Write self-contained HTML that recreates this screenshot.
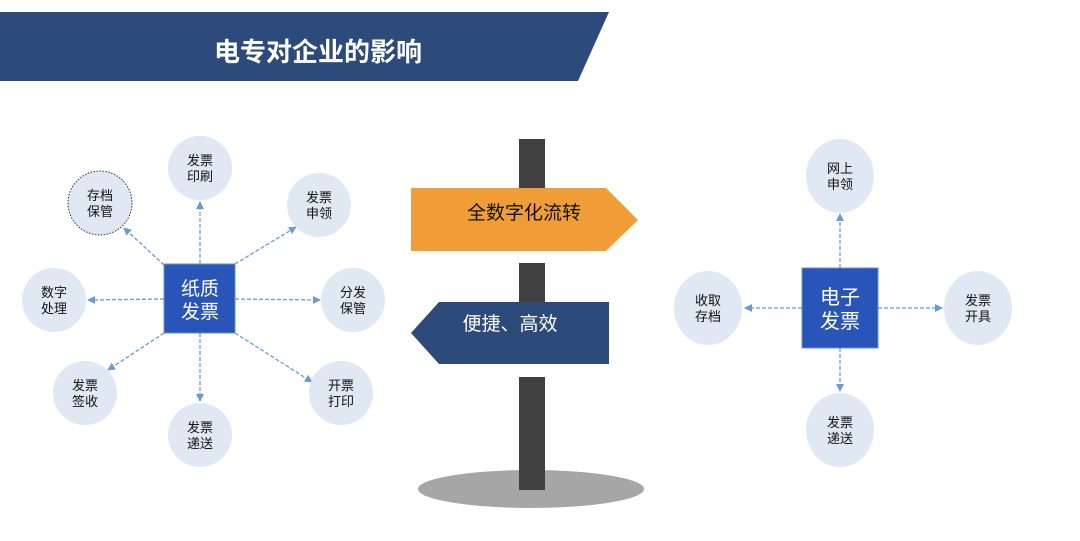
<!DOCTYPE html>
<html><head><meta charset="utf-8"><style>
html,body{margin:0;padding:0;background:#fff;width:1080px;height:541px;overflow:hidden}
text{font-family:"Liberation Sans","Noto Sans CJK SC",sans-serif}
</style></head><body>
<svg width="1080" height="541" viewBox="0 0 1080 541" xmlns="http://www.w3.org/2000/svg">
<defs>
<marker id="ar" markerWidth="8" markerHeight="8" refX="7" refY="4" orient="auto" markerUnits="userSpaceOnUse">
<path d="M0,0 L8,4 L0,8 Z" fill="#6a9bd6"/></marker>
</defs>
<polygon points="0,12 609,12 578,81 0,81" fill="#2c4a7a"/>
<text x="318" y="61" font-size="26" font-weight="bold" fill="#fff" text-anchor="middle">电专对企业的影响</text>

<!-- left connectors -->
<g stroke="#6a9bd6" stroke-width="1.3" stroke-dasharray="4,2" fill="none" marker-end="url(#ar)">
<line x1="200" y1="264" x2="200" y2="202"/>
<line x1="164" y1="265" x2="124" y2="228"/>
<line x1="235" y1="264" x2="296" y2="227"/>
<line x1="164" y1="299" x2="88" y2="300"/>
<line x1="235" y1="299" x2="320" y2="300"/>
<line x1="164" y1="333" x2="108" y2="370"/>
<line x1="200" y1="333" x2="200" y2="401"/>
<line x1="235" y1="333" x2="312" y2="382"/>
<line x1="840" y1="268" x2="840" y2="214"/>
<line x1="802" y1="308" x2="745" y2="308"/>
<line x1="878" y1="308" x2="942" y2="308"/>
<line x1="840" y1="348" x2="840" y2="391"/>
</g>

<g fill="#dfe8f3">
<circle cx="200" cy="168" r="32"/>
<circle cx="100" cy="203" r="32" stroke="#333" stroke-width="1" stroke-dasharray="1.5,1.5"/>
<circle cx="319" cy="205" r="32"/>
<circle cx="54" cy="300" r="32"/>
<circle cx="353" cy="300" r="32"/>
<circle cx="85" cy="393" r="32"/>
<circle cx="200" cy="435" r="32"/>
<circle cx="341" cy="393" r="32"/>
<ellipse cx="840" cy="176" rx="34" ry="37"/>
<ellipse cx="708" cy="308" rx="34" ry="37"/>
<ellipse cx="978" cy="308" rx="34" ry="37"/>
<ellipse cx="840" cy="430" rx="34" ry="37"/>
</g>

<g font-size="13" fill="#111" text-anchor="middle">
<text x="200" y="165">发票</text><text x="200" y="181">印刷</text>
<text x="100" y="200">存档</text><text x="100" y="216">保管</text>
<text x="319" y="202">发票</text><text x="319" y="218">申领</text>
<text x="54" y="297">数字</text><text x="54" y="313">处理</text>
<text x="353" y="297">分发</text><text x="353" y="313">保管</text>
<text x="85" y="390">发票</text><text x="85" y="406">签收</text>
<text x="200" y="432">发票</text><text x="200" y="448">递送</text>
<text x="341" y="390">开票</text><text x="341" y="406">打印</text>
<text x="840" y="173">网上</text><text x="840" y="189">申领</text>
<text x="708" y="305">收取</text><text x="708" y="321">存档</text>
<text x="978" y="305">发票</text><text x="978" y="321">开具</text>
<text x="840" y="427">发票</text><text x="840" y="443">递送</text>
</g>

<rect x="164" y="264" width="71" height="69" fill="#2a55b8" stroke="#6a8fd0" stroke-width="1"/>
<text x="200" y="295" font-size="19" fill="#fff" text-anchor="middle">纸质</text>
<text x="200" y="318" font-size="19" fill="#fff" text-anchor="middle">发票</text>
<rect x="802" y="268" width="76" height="80" fill="#2a55b8" stroke="#6a8fd0" stroke-width="1"/>
<text x="840" y="304" font-size="20" fill="#fff" text-anchor="middle">电子</text>
<text x="840" y="328" font-size="20" fill="#fff" text-anchor="middle">发票</text>

<!-- signpost -->
<ellipse cx="531" cy="489" rx="113" ry="19" fill="#a6a6a6"/>
<rect x="519" y="139" width="26" height="50" fill="#404040"/>
<rect x="519" y="263" width="26" height="39" fill="#404040"/>
<rect x="519" y="377" width="26" height="113" fill="#404040"/>
<polygon points="411,188 606,188 638,220 606,251 411,251" fill="#f09d38"/>
<text x="524" y="219" font-size="19" fill="#111" text-anchor="middle">全数字化流转</text>
<polygon points="439,302 609,302 609,364 439,364 411,333" fill="#2c4a7a"/>
<text x="510" y="330" font-size="19" fill="#fff" text-anchor="middle">便捷、高效</text>
</svg>
</body></html>
